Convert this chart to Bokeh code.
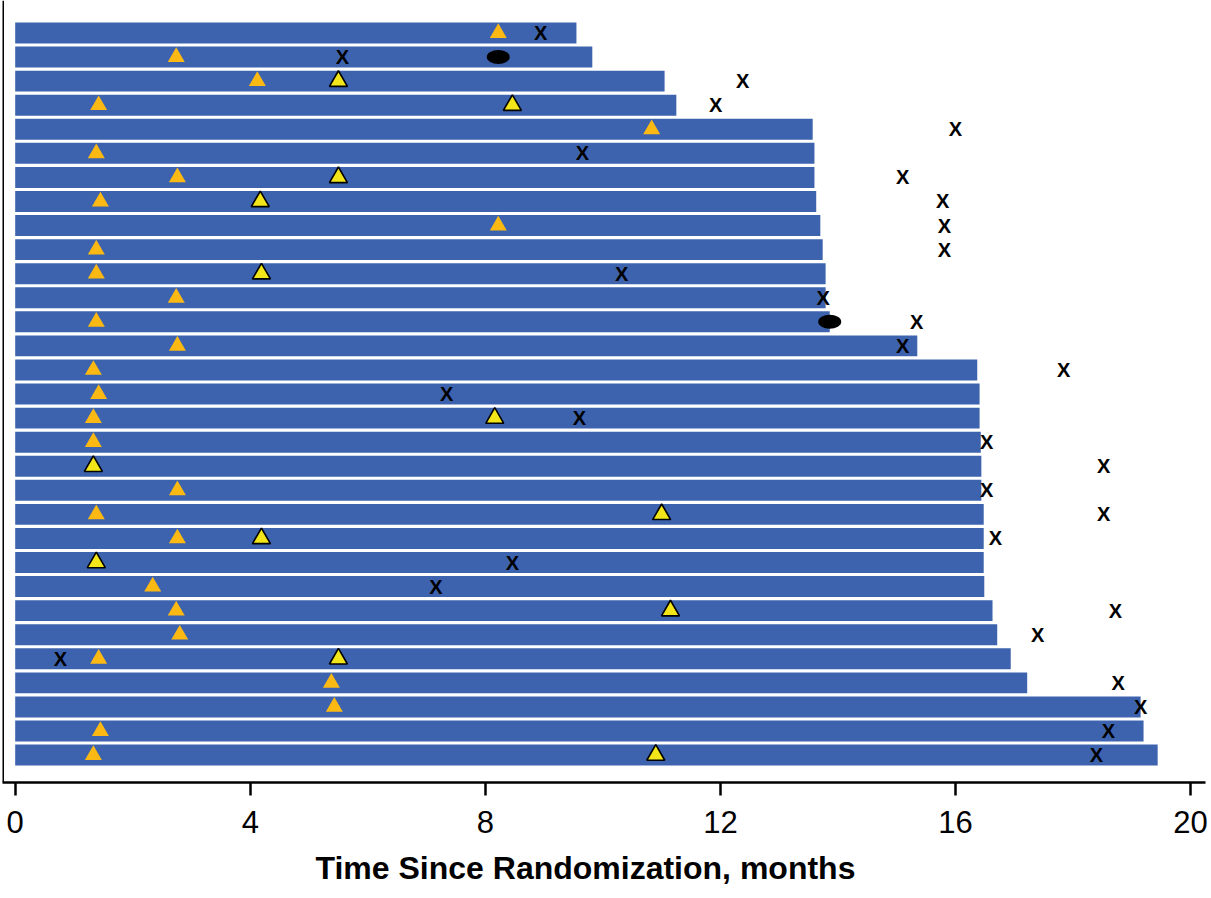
from bokeh.plotting import figure
from bokeh.models import Range1d, FixedTicker, Span, ColumnDataSource, Title
from bokeh.core.properties import value
from bokeh.embed import file_html
from bokeh.resources import INLINE

# Patients listed top (1) to bottom (31)
patient_row = list(range(1, 32))
bar_end = [9.55, 9.82, 11.05, 11.25, 13.57, 13.60, 13.60, 13.63, 13.70, 13.74,
           13.79, 13.79, 13.86, 15.35, 16.37, 16.41, 16.41, 16.43, 16.44, 16.44,
           16.48, 16.48, 16.48, 16.49, 16.63, 16.71, 16.94, 17.22, 19.15, 19.20,
           19.44]

# orange triangles
orange_row = [1, 2, 3, 4, 5, 6, 7, 8, 9, 10, 11, 12, 13, 14, 15, 16, 17, 18,
              20, 21, 22, 24, 25, 26, 27, 28, 29, 30, 31]
orange_t = [8.22, 2.74, 4.12, 1.42, 10.83, 1.38, 2.76, 1.45, 8.22, 1.38, 1.38,
            2.74, 1.38, 2.76, 1.33, 1.42, 1.33, 1.33, 2.76, 1.38, 2.76, 2.34,
            2.74, 2.80, 1.42, 5.38, 5.43, 1.45, 1.33]

# yellow outlined triangles
yellow_row = [3, 4, 7, 8, 11, 17, 19, 21, 22, 23, 25, 27, 31]
yellow_t = [5.50, 8.46, 5.50, 4.17, 4.19, 8.16, 1.33, 11.00, 4.19, 1.38,
            11.15, 5.50, 10.90]

# "X" events
x_row = list(range(1, 32))
x_t = [8.94, 5.57, 12.38, 11.92, 16.00, 9.65, 15.10, 15.78, 15.81, 15.81,
       10.32, 13.75, 15.34, 15.10, 17.84, 7.34, 9.60, 16.53, 18.52, 16.53,
       18.52, 16.68, 8.46, 7.16, 18.72, 17.40, 0.77, 18.77, 19.15, 18.60,
       18.40]

# black ovals
dot_row = [2, 13]
dot_t = [8.22, 13.86]

x_ticks = [0, 4, 8, 12, 16, 20]
x_label = "Time Since Randomization, months"

BAR = "#3D63AE"
ORANGE = "#FCB813"
YELLOW = "#F2E61A"
FONT = "Liberation Sans"

p = figure(width=1211, height=898, output_backend="svg", toolbar_location=None,
           x_range=Range1d(-0.216, 20.254), y_range=Range1d(32.14, -0.35),
           min_border_left=2, min_border_right=6, min_border_top=0,
           min_border_bottom=116)
p.outline_line_color = None
p.xgrid.visible = False
p.ygrid.visible = False
p.yaxis.visible = False
p.background_fill_color = "white"

p.hbar(y=patient_row, left=0, right=bar_end, height=0.87, fill_color=BAR,
       line_color=None)

p.scatter(x=orange_t, y=orange_row, marker="triangle", size=17,
          fill_color=ORANGE, line_color=None)
p.scatter(x=yellow_t, y=yellow_row, marker="triangle", size=18,
          fill_color=YELLOW, line_color="black", line_width=1.6)
p.ellipse(x=dot_t, y=dot_row, width=23, height=14, width_units="screen",
          height_units="screen", fill_color="black", line_color=None)

xsrc = ColumnDataSource(dict(x=x_t, y=x_row, t=["X"] * len(x_t)))
p.text(x="x", y="y", text="t", source=xsrc, text_font=value(FONT),
       text_font_style="bold", text_font_size="20px", text_align="center",
       text_baseline="middle", text_color="black")

ax = p.xaxis[0]
ax.ticker = FixedTicker(ticks=x_ticks)
ax.axis_line_width = 2.5
ax.axis_line_color = "black"
ax.major_tick_line_width = 2.5
ax.major_tick_in = 0
ax.major_tick_out = 13
ax.minor_tick_line_color = None
ax.major_label_text_font = FONT
ax.major_label_text_font_size = "31px"
ax.major_label_text_color = "black"
ax.major_label_standoff = 15

# axis title as a panel below the axis, shifted like in the reference
p.add_layout(Title(text=x_label, align="left", offset=313, standoff=24,
                   text_font=FONT, text_font_size="32px",
                   text_font_style="bold", text_color="black"), "below")

p.add_layout(Span(location=-0.216, dimension="height", line_color="black",
                  line_width=3))

open("out.html", "w").write(file_html(p, INLINE))
